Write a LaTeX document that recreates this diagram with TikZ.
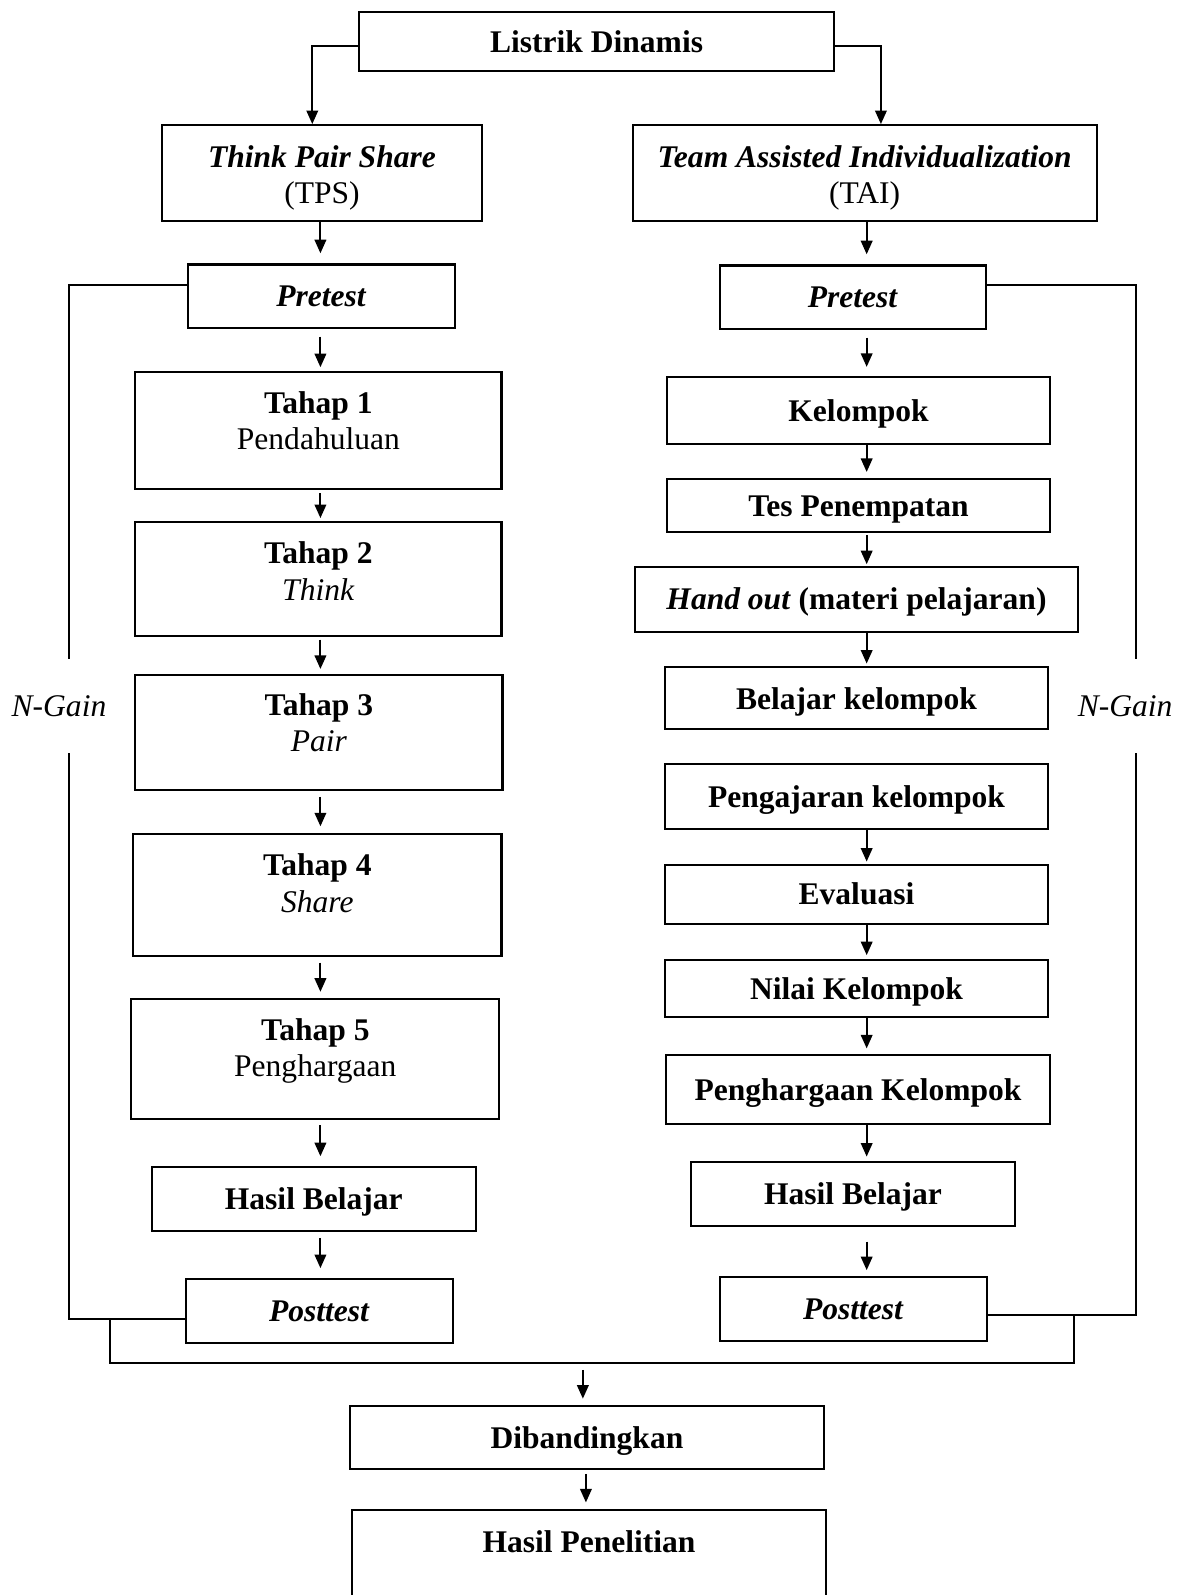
\documentclass[tikz,border=0pt]{standalone}
\usepackage{fontspec}
\setmainfont{Liberation Serif}
\usetikzlibrary{arrows.meta,calc}
\begin{document}
\begin{tikzpicture}[x=0.75pt,y=-0.75pt,
  line width=1.5pt,
  box/.style 2 args={draw, line width=1.5pt, minimum width=#1*0.75pt, minimum height=#2*0.75pt, inner sep=0pt, font=\fontsize{23.25}{27}\selectfont, text height=15.8pt, text depth=0pt},
  txt/.style={inner sep=0pt, font=\fontsize{23.25}{27}\selectfont, align=center},
  ng/.style={inner sep=0pt, minimum height=91*0.75pt, font=\fontsize{23.25}{27}\selectfont},
  arr/.style={-{Triangle[width=8.5pt,length=10pt]}, line width=1.5pt}
]
\useasboundingbox (0,0) rectangle (1165,1568);
\clip (0,0) rectangle (1165,1568);

% column coordinates
\coordinate (colL) at (315,0);
\coordinate (colR) at (852,0);
\coordinate (colB) at (576,0);
\coordinate (gL) at (68,0);
\coordinate (gR) at (1117,0);

% top
\node[box={467}{58}] (ld) at (586.5,41) {\textbf{Listrik Dinamis}};
\node[box={315}{94}] (tps) at (316.5,170) {};
\node[txt] (tpst) at (316.5,175) {\textbf{\textit{Think Pair Share}}\\(TPS)};
\node[box={456}{94}] (tai) at (850,170) {};
\node[txt] (tait) at (850,175) {\textbf{\textit{Team Assisted Individualization}}\\(TAI)};

% left column
\node[box={262}{62}] (preL) at (316,291) {\textbf{\textit{Pretest}}};
\node[box={360}{115}] (t1) at (313,423.5) {};
\node[txt] (t1t) at (313,413.5) {\textbf{Tahap 1}\\Pendahuluan};
\node[box={360}{112}] (t2) at (313,569) {};
\node[txt] (t2t) at (313,561.5) {\textbf{Tahap 2}\\\textit{Think}};
\node[box={361}{113}] (t3) at (313.5,720.5) {};
\node[txt] (t3t) at (313.5,710.5) {\textbf{Tahap 3}\\\textit{Pair}};
\node[box={362}{120}] (t4) at (312,880) {};
\node[txt] (t4t) at (312,868.5) {\textbf{Tahap 4}\\\textit{Share}};
\node[box={362}{118}] (t5) at (310,1041) {};
\node[txt] (t5t) at (310,1033) {\textbf{Tahap 5}\\Penghargaan};
\node[box={319}{63}] (hbL) at (308.5,1178.5) {\textbf{Hasil Belajar}};
\node[box={262}{63}] (postL) at (314,1288.5) {\textbf{\textit{Posttest}}};

% right column
\node[box={261}{62}] (preR) at (838.5,292) {\textbf{\textit{Pretest}}};
\node[box={376}{65}] (kel) at (844,403.5) {\textbf{Kelompok}};
\node[box={376}{52}] (tes) at (844,497) {\textbf{Tes Penempatan}};
\node[box={436}{64}] (hand) at (842,589) {\textbf{\textit{Hand out} (materi pelajaran)}};
\node[box={376}{61}] (bel) at (842,686.5) {\textbf{Belajar kelompok}};
\node[box={376}{64}] (peng) at (842,783) {\textbf{Pengajaran kelompok}};
\node[box={376}{58}] (eva) at (842,879) {\textbf{Evaluasi}};
\node[box={376}{56}] (nil) at (842,972) {\textbf{Nilai Kelompok}};
\node[box={377}{68}] (phg) at (843.5,1071) {\textbf{Penghargaan Kelompok}};
\node[box={319}{63}] (hbR) at (838.5,1173.5) {\textbf{Hasil Belajar}};
\node[box={262}{63}] (postR) at (839,1286.5) {\textbf{\textit{Posttest}}};

% bottom
\node[box={466}{62}] (dib) at (577,1413) {\textbf{Dibandingkan}};
\node[box={466}{116}] (hp) at (579,1542) {};
\node[txt, text height=15.8pt, text depth=0pt] (hpt) at (579,1516) {\textbf{Hasil Penelitian}};

% N-Gain labels
\node[ng] (nL) at (58,694) {\textit{N-Gain}};
\node[ng] (nR) at (1106,694) {\textit{N-Gain}};

% top connectors
\draw[arr] ($(ld.west)+(0,4)$) -| ($(tps.north)+(-9.5,0)$);
\draw[arr] ($(ld.east)+(0,4)$) -| ($(tai.north)+(16,0)$);

% left arrows
\draw[arr, shorten >=7.5pt] (tps.south -| colL) -- (preL.north -| colL);
\draw[arr, shorten <=6pt, shorten >=3pt] (preL.south -| colL) -- (t1.north -| colL);
\draw[arr, shorten <=2pt, shorten >=2pt] (t1.south -| colL) -- (t2.north -| colL);
\draw[arr, shorten <=2pt, shorten >=4pt] (t2.south -| colL) -- (t3.north -| colL);
\draw[arr, shorten <=4pt, shorten >=5pt] (t3.south -| colL) -- (t4.north -| colL);
\draw[arr, shorten <=4pt, shorten >=4.5pt] (t4.south -| colL) -- (t5.north -| colL);
\draw[arr, shorten <=4pt, shorten >=7pt] (t5.south -| colL) -- (hbL.north -| colL);
\draw[arr, shorten <=4.5pt, shorten >=7pt] (hbL.south -| colL) -- (postL.north -| colL);

% right arrows
\draw[arr, shorten >=7.5pt] (tai.south -| colR) -- (preR.north -| colR);
\draw[arr, shorten <=6pt, shorten >=7pt] (preR.south -| colR) -- (kel.north -| colR);
\draw[arr, shorten >=4.5pt] (kel.south -| colR) -- (tes.north -| colR);
\draw[arr, shorten <=1.5pt, shorten >=1pt] (tes.south -| colR) -- (hand.north -| colR);
\draw[arr, shorten >=2pt] (hand.south -| colR) -- (bel.north -| colR);
\draw[arr, shorten >=1.5pt] (peng.south -| colR) -- (eva.north -| colR);
\draw[arr, shorten >=3pt] (eva.south -| colR) -- (nil.north -| colR);
\draw[arr, shorten >=4pt] (nil.south -| colR) -- (phg.north -| colR);
\draw[arr, shorten >=3pt] (phg.south -| colR) -- (hbR.north -| colR);
\draw[arr, shorten <=11pt, shorten >=4pt] (hbR.south -| colR) -- (postR.north -| colR);

% N-Gain lines
\draw ($(preL.west)+(0,-11)$) -| (nL.north -| gL);
\draw (nL.south -| gL) |- ($(postL.west)+(0,8)$);
\draw ($(preR.east)+(0,-12)$) -| (nR.north -| gR);
\draw (nR.south -| gR) |- ($(postR.east)+(0,6.5)$);

% bracket
\coordinate (bl) at (108,1296.5);
\coordinate (br) at (1056,1293);
\coordinate (bm) at (573,1340);
\draw (bl) |- (bm) -| (br);
\draw[arr, shorten <=5pt, shorten >=4.5pt] (bm) -- (bm |- dib.north);
\draw[arr, shorten <=3pt, shorten >=4.5pt] (dib.south -| colB) -- (hp.north -| colB);
\end{tikzpicture}
\end{document}
